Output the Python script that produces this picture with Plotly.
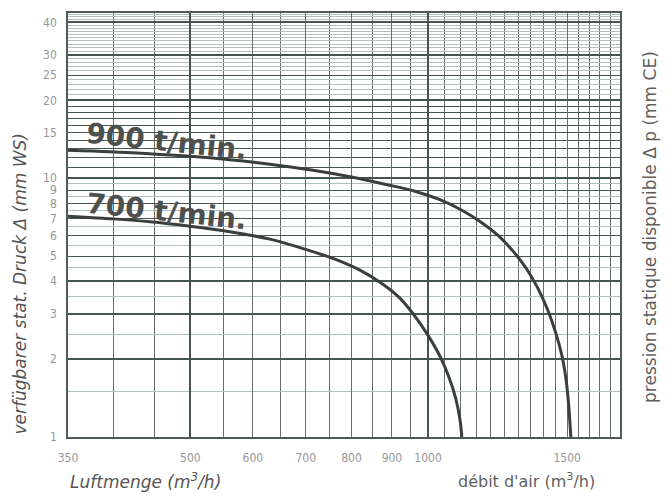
import math
import plotly.graph_objects as go

# ---- data ----
x_ticks = [350, 500, 600, 700, 800, 900, 1000, 1500]
x_ticktext = ["350", "500", "600", "700", "800", "900", "1000", "1500"]
y_ticks = [1, 2, 3, 4, 5, 6, 7, 8, 9, 10, 15, 20, 25, 30, 40]

x_grid = list(range(400, 1751, 50))
x_grid_thick = [500, 1000]
y_grid_thick = [2, 3, 4, 10, 20, 30, 40]
y_grid_mid = [11, 12, 13, 14, 16, 17, 18, 19]
y_grid_light = [1.5, 2.5, 3.5, 4.5, 5.5, 6.5, 7.5, 8.5, 9.5] + \
    [v for v in range(21, 44) if v not in (25, 30, 40)]

flow_900 = [350, 395.6, 444.5, 499.4, 561.2, 630.6, 708.6, 796.3, 881.9, 962.2, 1035.1, 1103.6,
            1169.8, 1229.3, 1284.3, 1333.7, 1377.1, 1418.0, 1451.4, 1477.0, 1494.4, 1505.2, 1511.8, 1516.3]
press_900 = [12.83, 12.66, 12.43, 12.16, 11.79, 11.33, 10.78, 10.13, 9.48, 8.91, 8.26, 7.52,
             6.73, 5.97, 5.18, 4.45, 3.76, 3.09, 2.52, 2.07, 1.69, 1.38, 1.153, 1.0]

flow_700 = [350, 395.6, 444.5, 499.4, 561.2, 630.6, 698.3, 762.2, 819.8, 876.6, 921.1, 962.2,
            999.5, 1035.1, 1062.6, 1084.5, 1097.2, 1103.6]
press_700 = [7.134, 6.977, 6.792, 6.527, 6.215, 5.815, 5.319, 4.867, 4.414, 3.896, 3.441, 2.933,
             2.476, 2.054, 1.705, 1.402, 1.174, 1.0]

X_RANGE = [350, 1750]
Y_RANGE = [1, 43.5]

xr = [math.log10(v) for v in X_RANGE]
yr = [math.log10(v) for v in Y_RANGE]

DARK = "rgb(70,85,80)"
VGRID = "rgb(100,112,108)"
LIGHT = "rgb(178,192,192)"
CURVE = "rgb(58,62,60)"
TICKFONT = dict(family="Liberation Sans Narrow, DejaVu Sans Condensed, Arial Narrow, Liberation Sans, sans-serif",
                size=12, color="rgb(150,150,150)")
TITLEFONT = "DejaVu Sans, Verdana, sans-serif"

fig = go.Figure()
fig.add_trace(go.Scatter(x=flow_900, y=press_900, mode="lines",
                         line=dict(color=CURVE, width=3, shape="spline", smoothing=1.0),
                         showlegend=False, hoverinfo="skip"))
fig.add_trace(go.Scatter(x=flow_700, y=press_700, mode="lines",
                         line=dict(color=CURVE, width=3, shape="spline", smoothing=1.0),
                         showlegend=False, hoverinfo="skip"))
fig.add_trace(go.Scatter(x=[], y=[], xaxis="x2", yaxis="y2", showlegend=False, hoverinfo="skip"))

fig.update_layout(
    width=672, height=498,
    margin=dict(l=68, r=52, t=11, b=61),
    paper_bgcolor="white", plot_bgcolor="white",
    xaxis=dict(type="log", range=xr, tickmode="array", tickvals=x_ticks, ticktext=x_ticktext,
               showgrid=True, gridcolor=VGRID, gridwidth=1, ticks="", tickfont=TICKFONT,
               showline=True, linecolor="rgb(80,90,88)", linewidth=1.5, mirror=True,
               zeroline=False, ticklabelstandoff=9,
               minor=dict(tickvals=x_grid, showgrid=True, gridcolor=VGRID, gridwidth=1, ticks="")),
    yaxis=dict(type="log", range=yr, tickmode="array", tickvals=y_ticks, ticktext=[str(v) for v in y_ticks],
               showgrid=True, gridcolor=DARK, gridwidth=1.2, ticks="", tickfont=TICKFONT,
               showline=True, linecolor="rgb(80,90,88)", linewidth=1.5, mirror=True,
               zeroline=False, ticklabelstandoff=7,
               minor=dict(tickvals=y_grid_light, showgrid=True, gridcolor=LIGHT, gridwidth=1, ticks="")),
    xaxis2=dict(type="log", range=xr, overlaying="x", anchor="y2", tickmode="array", tickvals=x_grid_thick,
                showgrid=True, gridcolor=DARK, gridwidth=2.2, showticklabels=False, ticks="",
                showline=False, zeroline=False),
    yaxis2=dict(type="log", range=yr, overlaying="y", anchor="x2", side="left", tickmode="array",
                tickvals=y_grid_thick, showgrid=True, gridcolor=DARK, gridwidth=2, showticklabels=False,
                ticks="", showline=False, zeroline=False,
                minor=dict(tickvals=y_grid_mid, showgrid=True, gridcolor=DARK, gridwidth=1, ticks="")),
)

ann = [
    dict(text="<i>verfügbarer stat. Druck Δ (mm WS)</i>", x=-0.087, y=0.362, textangle=-90,
         font=dict(family=TITLEFONT, size=17, color="rgb(85,85,85)")),
    dict(text="pression statique disponible Δ p (mm CE)", x=1.054, y=0.495, textangle=-90,
         font=dict(family=TITLEFONT, size=17, color="rgb(95,95,95)")),
    dict(text="<i>Luftmenge (m<sup>3</sup>/h)</i>", x=0.141, y=-0.103,
         font=dict(family=TITLEFONT, size=17, color="rgb(85,85,85)")),
    dict(text="débit d'air (m<sup>3</sup>/h)", x=0.830, y=-0.103,
         font=dict(family=TITLEFONT, size=16, color="rgb(95,95,95)")),
    dict(text="900 t/min.", x=0.178, y=0.697, textangle=6,
         font=dict(family=TITLEFONT, size=28, color="rgb(78,80,78)", weight="bold")),
    dict(text="700 t/min.", x=0.179, y=0.533, textangle=6,
         font=dict(family=TITLEFONT, size=28, color="rgb(78,80,78)", weight="bold")),
]
for a in ann:
    fig.add_annotation(xref="paper", yref="paper", showarrow=False, xanchor="center", yanchor="middle", **a)

fig.write_html("out.html")
